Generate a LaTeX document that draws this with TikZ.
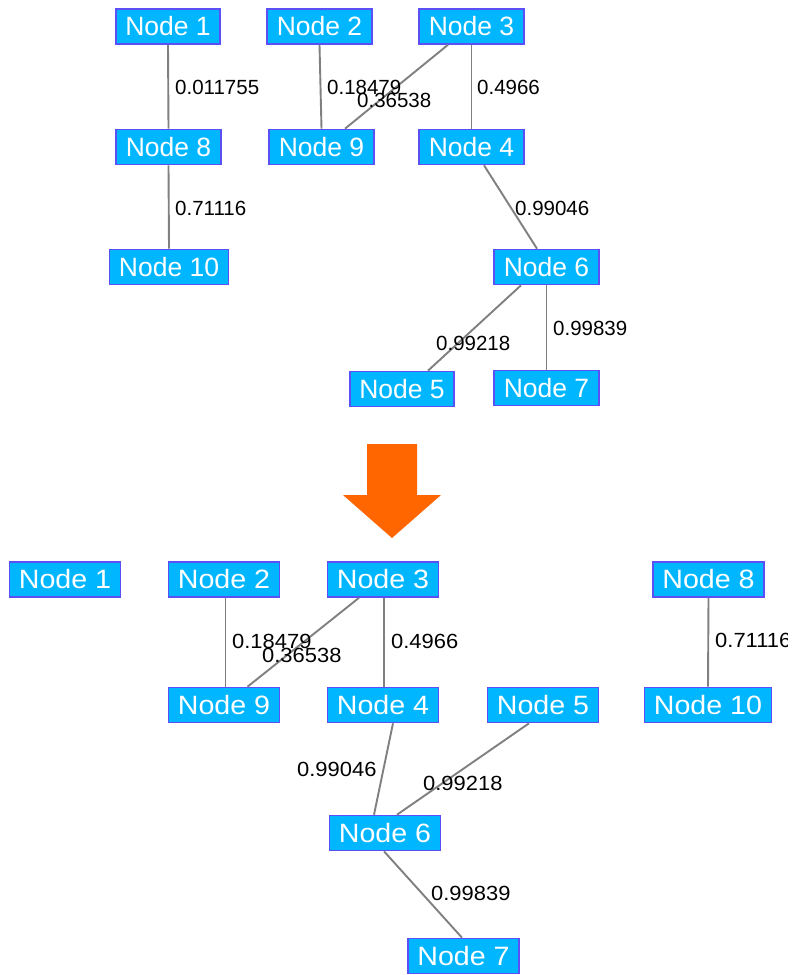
\documentclass[tikz,border=0pt]{standalone}
\usepackage{fontspec}
\setmainfont{Liberation Sans}
\newfontfamily\upperfont{Liberation Sans}
\newfontfamily\lowerfont[FakeStretch=1.08]{Liberation Sans}
\newfontfamily\lowerlabfont[FakeStretch=1.07]{Liberation Sans}
\usetikzlibrary{calc}
\definecolor{nodefill}{RGB}{0,182,255}
\definecolor{nodeborder}{RGB}{90,80,245}
\definecolor{edgegray}{RGB}{128,128,128}
\definecolor{arroworange}{RGB}{255,102,0}

\begin{document}
\begin{tikzpicture}[x=1pt,y=-1pt,
  box/.style={draw=nodeborder, line width=1.6pt, fill=nodefill, text=white,
    minimum height=35pt, inner xsep=9.5pt, inner ysep=0pt},
  upperbox/.style={box, font=\upperfont\fontsize{26.5}{30}\selectfont},
  lowerbox/.style={box, font=\lowerfont\fontsize{26.5}{30}\selectfont},
  upperlab/.style={anchor=west, inner sep=0pt, text=black,
    font=\upperfont\fontsize{20.5}{24}\selectfont},
  lowerlab/.style={anchor=west, inner sep=0pt, text=black,
    font=\lowerlabfont\fontsize{20.5}{24}\selectfont},
  link/.style={draw=edgegray, line width=1.9pt}]

\useasboundingbox (0,0) rectangle (793,975);
\fill[white] (0,0) rectangle (793,975);

% ---------- upper graph ----------
\node[upperbox] (u1)  at (168,26.5)   {Node 1};
\node[upperbox] (u2)  at (319.5,26.5) {Node 2};
\node[upperbox] (u3)  at (471.5,26.5) {Node 3};
\node[upperbox] (u8)  at (168.5,147)  {Node 8};
\node[upperbox] (u9)  at (321.5,147)  {Node 9};
\node[upperbox] (u4)  at (471.5,147)  {Node 4};
\node[upperbox] (u10) at (169,267)    {Node 10};
\node[upperbox] (u6)  at (546.5,267)  {Node 6};
\node[upperbox] (u5)  at (402,389)    {Node 5};
\node[upperbox] (u7)  at (546.5,388)  {Node 7};

\draw[link] (u1.south) -- (u8.north);
\draw[link] (u2.south) -- (u9.north);
\draw[link] ($(u3.south)+(-23.5,0)$) -- ($(u9.north)+(23.5,0)$);
\draw[link] (u3.south) -- (u4.north);
\draw[link] ($(u4.south)+(12.5,0)$) -- ($(u6.north)+(-9.5,0)$);
\draw[link] (u8.south) -- (u10.north);
\draw[link] ($(u6.south)+(-25.5,0)$) -- ($(u5.north)+(26,0)$);
\draw[link] (u6.south) -- (u7.north);

\node[upperlab] (ul18) at (175,87)  {0.011755};
\node[upperlab] (ul29) at (327,87)  {0.18479};
\node[upperlab] (ul39) at (357,100) {0.36538};
\node[upperlab] (ul34) at (477,87)  {0.4966};
\node[upperlab] (ul810) at (175,208) {0.71116};
\node[upperlab] (ul46) at (515,208) {0.99046};
\node[upperlab] (ul65) at (436,343) {0.99218};
\node[upperlab] (ul67) at (553,328) {0.99839};

% ---------- transition arrow ----------
\fill[arroworange] (367,444) -- (417,444) -- (417,495) -- (441,495)
  -- (392,538) -- (343,495) -- (367,495) -- cycle;

% ---------- lower graph ----------
\node[lowerbox] (l1)  at (65,579.5)    {Node 1};
\node[lowerbox] (l2)  at (224,579.5)   {Node 2};
\node[lowerbox] (l3)  at (383,579.5)   {Node 3};
\node[lowerbox] (l8)  at (708.5,579.5) {Node 8};
\node[lowerbox] (l9)  at (224,705)     {Node 9};
\node[lowerbox] (l4)  at (383,705)     {Node 4};
\node[lowerbox] (l5)  at (543,705)     {Node 5};
\node[lowerbox] (l10) at (708,705)     {Node 10};
\node[lowerbox] (l6)  at (385,833)     {Node 6};
\node[lowerbox] (l7)  at (463.5,956)   {Node 7};

\draw[link] ($(l2.south)+(1.5,0)$) -- ($(l9.north)+(1.5,0)$);
\draw[link] ($(l3.south)+(-24,0)$) -- ($(l9.north)+(23.5,0)$);
\draw[link] ($(l3.south)+(1,0)$) -- ($(l4.north)+(1,0)$);
\draw[link] ($(l4.south)+(10,0)$) -- ($(l6.north)+(-11,0)$);
\draw[link] ($(l5.south)+(-14,0)$) -- ($(l6.north)+(12,0)$);
\draw[link] ($(l6.south)+(-1,0)$) -- ($(l7.north)+(-1.5,0)$);
\draw[link] (l8.south) -- (l10.north);

\node[lowerlab] (ll29) at (232,641) {0.18479};
\node[lowerlab] (ll39) at (262,655) {0.36538};
\node[lowerlab] (ll34) at (391,641) {0.4966};
\node[lowerlab] (ll46) at (297,769) {0.99046};
\node[lowerlab] (ll56) at (423,783) {0.99218};
\node[lowerlab] (ll67) at (431,893) {0.99839};
% this weight runs off the drawing area and is cut at its edge
\begin{scope}
  \clip (0,0) rectangle (787,975);
  \node[lowerlab] (ll810) at (715,640) {0.71116};
\end{scope}
\end{tikzpicture}
\end{document}
